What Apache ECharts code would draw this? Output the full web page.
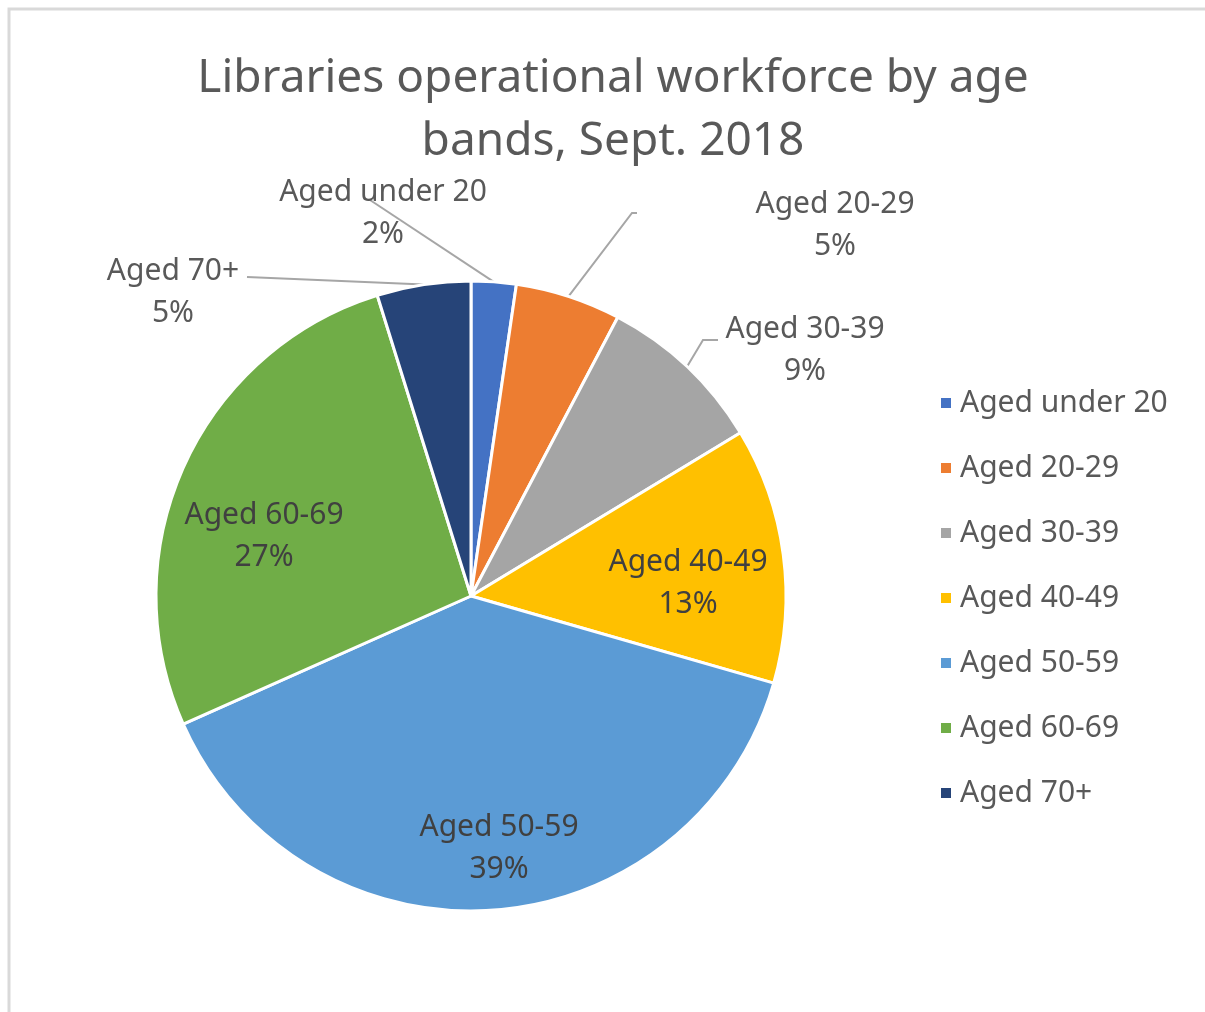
<!DOCTYPE html>
<html>
<head>
<meta charset="utf-8">
<script src="https://cdn.jsdelivr.net/npm/echarts@6/dist/echarts.min.js"></script>
<style>
  html, body { margin: 0; padding: 0; background: #fff; }
  #chart { width: 1205px; height: 1012px; }
</style>
</head>
<body>
<div id="chart"></div>
<script>
const categories = ['Aged under 20', 'Aged 20-29', 'Aged 30-39', 'Aged 40-49', 'Aged 50-59', 'Aged 60-69', 'Aged 70+']
const shares = [2.3, 5.4, 8.6, 13.1, 38.8, 26.8, 4.8]
const colors = ['#4472C4', '#ED7D31', '#A5A5A5', '#FFC000', '#5B9BD5', '#70AD47', '#264478']
const insideLabels = ['Aged 40-49', 'Aged 50-59', 'Aged 60-69']

// where Excel put each data label (centre of the text block)
const labelSpots = [[383, 213], [835, 225], [805, 350], [688, 583], [499, 848], [264, 536], [173, 292]]
// the bends of Excel's leader lines, after the point on the slice
const leaderBends = [
  [[370, 200]],
  [[632, 213], [637, 213]],
  [[703, 340], [718, 340]],
  null, null, null,
  [[247, 277]],
]

const font = '"Noto Sans", "Open Sans", sans-serif'

const chart = echarts.init(document.getElementById('chart'))

const options = {
  animation: false,
  color: colors,
  title: {
    text: 'Libraries operational workforce by age\nbands, Sept. 2018',
    left: 608,
    top: 42,
    textAlign: 'center',
    textStyle: {
      fontFamily: font,
      fontSize: 46,
      fontWeight: 'normal',
      color: '#595959',
      lineHeight: 63,
    },
  },
  legend: {
    orient: 'vertical',
    left: 934,
    top: 383,
    itemWidth: 12,
    itemHeight: 12,
    itemGap: 35,
    icon: 'rect',
    data: categories,
    textStyle: {
      fontFamily: font,
      fontSize: 30,
      lineHeight: 30,
      color: '#595959',
      padding: [0, 0, 0, 3],
    },
  },
  graphic: [{
    type: 'rect',
    shape: { x: 9, y: 9, width: 1400, height: 1200 },
    style: { fill: 'none', stroke: '#d9d9d9', lineWidth: 3 },
    silent: true,
  }],
  series: [{
    type: 'pie',
    center: [471, 596],
    radius: 315,
    startAngle: 90,
    itemStyle: { borderColor: '#fff', borderWidth: 3 },
    label: {
      position: 'outside',
      fontFamily: font,
      fontSize: 30,
      lineHeight: 42,
      color: '#595959',
      align: 'center',
      overflow: 'none',
      formatter: p => p.name + '\n' + Math.round(p.percent) + '%',
    },
    labelLine: {
      show: true,
      length: 20,
      length2: 6,
      lineStyle: { color: '#a6a6a6', width: 2 },
    },
    labelLayout: p => {
      const spot = labelSpots[p.dataIndex]
      const bends = leaderBends[p.dataIndex]
      const out = { x: spot[0], y: spot[1], align: 'center', verticalAlign: 'middle', width: 300 }
      if (bends && p.labelLinePoints) {
        out.labelLinePoints = [p.labelLinePoints[0]].concat(bends)
      }
      return out
    },
    data: categories.map((name, i) => {
      const inside = insideLabels.includes(name)
      return {
        name,
        value: shares[i],
        label: { color: inside ? '#404040' : '#595959' },
        labelLine: { show: !inside },
      }
    }),
  }],
}

chart.setOption(options)
</script>
</body>
</html>
